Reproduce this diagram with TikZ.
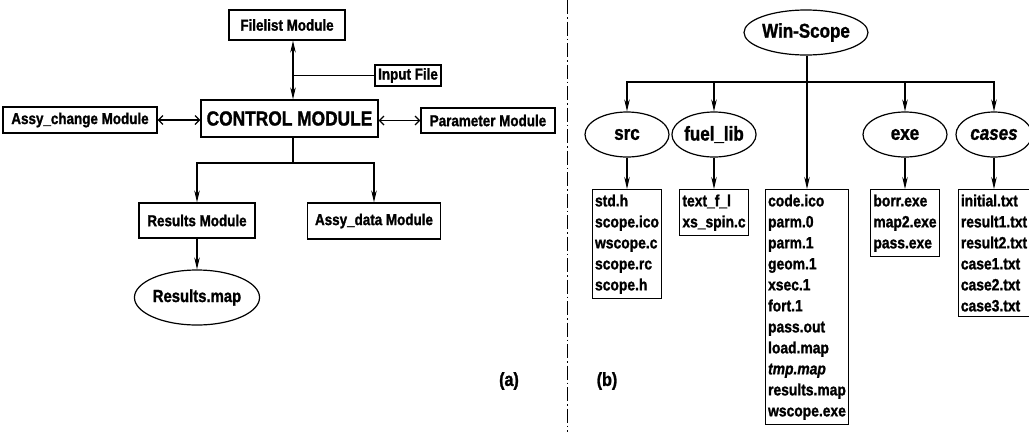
\documentclass[tikz,border=0pt]{standalone}
\usepackage{fontspec}
\setmainfont[FakeStretch=0.85,BoldFeatures={FakeBold=1.3},BoldItalicFeatures={FakeBold=1.3}]{Liberation Sans}
\usetikzlibrary{shapes.geometric,arrows.meta}
\begin{document}
\begin{tikzpicture}[x=1pt,y=-1pt,
  modbox/.style={draw,line width=1.2pt,inner sep=0pt,font=\bfseries\fontsize{15.8}{19}\selectfont},
  bigbox/.style={draw,line width=1.3pt,inner sep=0pt,font=\bfseries\fontsize{20.4}{24}\selectfont},
  oval/.style={draw,ellipse,line width=1.2pt,inner sep=0pt,font=\bfseries\fontsize{20}{23}\selectfont},
  listbox/.style={draw,line width=1.1pt,anchor=north,align=left,inner xsep=2.5pt,inner ysep=5pt,
     font=\bfseries\fontsize{16.3}{21}\selectfont},
  conn/.style={line width=1.2pt},
  arr/.style={line width=1.2pt,-{Stealth[length=12pt,width=5.5pt]}},
  dblarr/.style={line width=1.2pt,{Stealth[length=12pt,width=5.5pt]}-{Stealth[length=12pt,width=5.5pt]}},
  barb/.style={line width=1.2pt,{Straight Barb[length=4.5pt,width=9pt]}-{Straight Barb[length=4.5pt,width=9pt]}},
  sep/.style={line width=0.9pt,dash pattern={on 14pt off 3pt on 1.5pt off 3pt}},
  tag/.style={font=\bfseries\fontsize{19}{22}\selectfont}
]
\useasboundingbox (0,0) rectangle (1029,432);

% ---------- (a) ----------
\node[modbox,minimum width=116pt,minimum height=30pt] (filelist) at (287,25) {Filelist Module};
\node[modbox,minimum width=66pt,minimum height=21pt] (inp) at (408,75.5) {Input File};
\node[bigbox,minimum width=177pt,minimum height=37pt] (ctrl) at (289.5,118.5) {CONTROL MODULE};
\node[modbox,minimum width=154pt,minimum height=26pt] (assyc) at (80,120) {Assy\_change Module};
\node[modbox,minimum width=134pt,minimum height=25pt] (param) at (488,120.5) {Parameter Module};
\node[modbox,minimum width=116pt,minimum height=35pt] (resmod) at (197,220.5) {Results Module};
\node[modbox,minimum width=133pt,minimum height=36pt] (assyd) at (374,221) {Assy\_data Module};
\node[oval,minimum width=108pt,minimum height=55pt,font=\bfseries\fontsize{17.5}{20}\selectfont] (resmap) at (197,297.5) {Results.map};

\coordinate (xline) at (293,0);
\coordinate (jL) at (293,163);
\draw[dblarr] (filelist.south -| xline) -- (ctrl.north -| xline);
\draw[conn] (inp.west) -- (inp.west -| xline);
\draw[barb] (assyc.east) -- (ctrl.west |- assyc.east);
\draw[barb] (ctrl.east |- param.west) -- (param.west);
\draw[conn] (ctrl.south -| jL) -- (jL);
\draw[arr] (jL) -| (resmod.north);
\draw[arr] (jL) -| (assyd.north);
\draw[arr] (resmod.south) -- (resmap.north);

\node[tag] (la) at (509,381) {(a)};

% ---------- separator ----------
\draw[sep] (567,0) -- (567,432);

% ---------- (b) ----------
\node[oval,minimum width=108pt,minimum height=45pt] (win) at (806,32.5) {Win-Scope};
\node[oval,minimum width=84pt,minimum height=45pt] (src) at (627,134.5) {src};
\node[oval,minimum width=84pt,minimum height=45pt] (fuel) at (714,134.5) {fuel\_lib};
\node[oval,minimum width=84pt,minimum height=45pt] (exe) at (905,134.5) {exe};
\node[oval,minimum width=76pt,minimum height=45pt] (cases) at (994,134.5) {\textit{cases}};

\node[listbox] (srcf) at (627,189) {std.h\\scope.ico\\wscope.c\\scope.rc\\scope.h};
\node[listbox] (fuelf) at (714,189) {text\_f\_l\\xs\_spin.c};
\node[listbox] (files) at (807,189) {code.ico\\parm.0\\parm.1\\geom.1\\xsec.1\\fort.1\\pass.out\\load.map\\\textit{tmp.map}\\results.map\\wscope.exe};
\node[listbox] (exef) at (905,189) {borr.exe\\map2.exe\\pass.exe};
\node[listbox] (casef) at (994,189) {initial.txt\\result1.txt\\result2.txt\\case1.txt\\case2.txt\\case3.txt};

\coordinate (jR) at (807,82);
\draw[conn] (win.south -| jR) -- (jR);
\draw[arr] (jR) -| (src.north);
\draw[arr] (jR) -| (fuel.north);
\draw[arr] (jR) -| (exe.north);
\draw[arr] (jR) -| (cases.north);
\draw[arr] (jR) -- (files.north);
\draw[arr] (src.south) -- (srcf.north);
\draw[arr] (fuel.south) -- (fuelf.north);
\draw[arr] (exe.south) -- (exef.north);
\draw[arr] (cases.south) -- (casef.north);

\node[tag] (lb) at (607,381) {(b)};
\end{tikzpicture}
\end{document}
